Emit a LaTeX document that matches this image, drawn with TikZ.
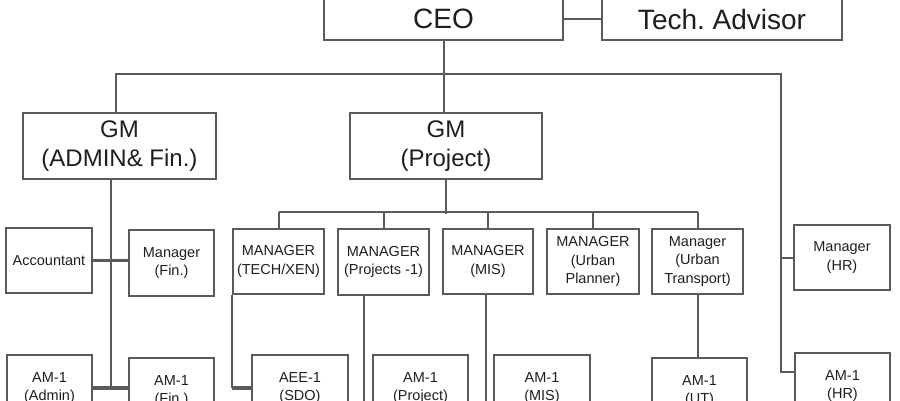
\documentclass[tikz,border=0pt]{standalone}
\usepackage{fontspec}
\setmainfont{Liberation Sans}
\frenchspacing
\definecolor{linegray}{HTML}{5A5A5A}
\definecolor{textgray}{HTML}{1E1E1E}
\begin{document}
\begin{tikzpicture}[x=1pt,y=-1pt,
	box/.style={draw=linegray, line width=2pt, inner sep=0pt, align=center, text=textgray, minimum height=66pt},
	big/.style={box, font=\fontsize{28}{32}\selectfont, minimum height=42pt},
	mid/.style={box, font=\fontsize{24}{29}\selectfont},
	small/.style={box, font=\fontsize{14.5}{18.5}\selectfont},
	link/.style={draw=linegray, line width=2pt},
	side/.style={draw=linegray, line width=3.2pt}]
		
		\clip (0,0) rectangle (900,400);
		
		\node[big, minimum width=239pt] (ceo) at (443.5,19){CEO};
		\node[big, minimum width=240pt] (tech) at (722,19){Tech. Advisor};
		\node[mid, minimum width=193pt] (gmA) at (119.5,146){GM\\(ADMIN\& Fin.)};
		\node[mid, minimum width=192pt] (gmP) at (446,146){GM\\(Project)};
		
		\node[small, minimum width=86pt, minimum height=65pt] (acc) at (49,260.5){Accountant};
		\node[small, minimum width=85pt] (mgrFin) at (171.5,263){Manager\\(Fin.)};
		\node[small, minimum width=85pt] (amAdm) at (49.5,388){AM-1\\(Admin)};
		\node[small, minimum width=85pt] (amFin) at (171.5,391){AM-1\\(Fin.)};
		
		\node[small, minimum width=91pt, minimum height=65pt] (mTech) at (278.5,261.5){MANAGER\\(TECH/XEN)};
		\node[small, minimum width=91pt] (mProj) at (383.5,262){MANAGER\\(Projects -1)};
		\node[small, minimum width=90pt, minimum height=65pt] (mMIS) at (488,261.5){MANAGER\\(MIS)};
		\node[small, minimum width=92pt, minimum height=65pt] (mUP) at (593,261.5){MANAGER\\(Urban\\Planner)};
		\node[small, minimum width=91pt, minimum height=65pt] (mUT) at (697.5,261.5){Manager\\(Urban\\Transport)};
		\node[small, minimum width=96pt, minimum height=65pt] (mHR) at (842,257.5){Manager\\(HR)};
		
		\node[small, minimum width=96pt] (aee) at (300,388){AEE-1\\(SDO)};
		\node[small, minimum width=95pt] (amProj) at (420.5,388){AM-1\\(Project)};
		\node[small, minimum width=96pt] (amMIS) at (542,388){AM-1\\(MIS)};
		\node[small, minimum width=95pt] (amUT) at (699.5,391){AM-1\\(UT)};
		\node[small, minimum width=95pt] (amHR) at (842.5,386){AM-1\\(HR)};
		
		%%%%% Lines %%%%%%
		\coordinate (hrline) at (781,74);
		\draw[link] (ceo)--(tech);
		\draw[link] (ceo.south)--(ceo.south |- gmP.north);
		\draw[link] ([xshift=-3.5pt]gmA.north) |- (hrline) |- ([yshift=14pt]amHR.west);
		\draw[link] (mHR.west)--(mHR.west -| hrline);
		
		\draw[link] ([xshift=-8.5pt]gmA.south) |- (amAdm.east);
		\draw[side] (acc.east)--(acc.east -| mgrFin.west);
		\draw[side] (amAdm.east)--(amAdm.east -| amFin.west);
		
		\draw[link] (gmP.south)--++(0,34);
		\draw[link] ([yshift=16pt]mTech.north)--([yshift=16pt]mUT.north);
		\foreach \m in {mTech,mProj,mMIS,mUP,mUT}
			\draw[link] (\m.north)--++(0,-16);
		
		\draw[link] (mTech.south west)--(mTech.south west |- aee.west);
		\draw[side] (mTech.south west |- aee.west)--(aee.west);
		\draw[link] ([xshift=27pt]mProj.south west) |- ([yshift=-26pt]amProj.west);
		\draw[link] ([xshift=-2pt]mMIS.south) |- ([yshift=-26pt]amMIS.west);
		\draw[link] (mUT.south)--(mUT.south |- amUT.north);
		
\end{tikzpicture}
\end{document}
